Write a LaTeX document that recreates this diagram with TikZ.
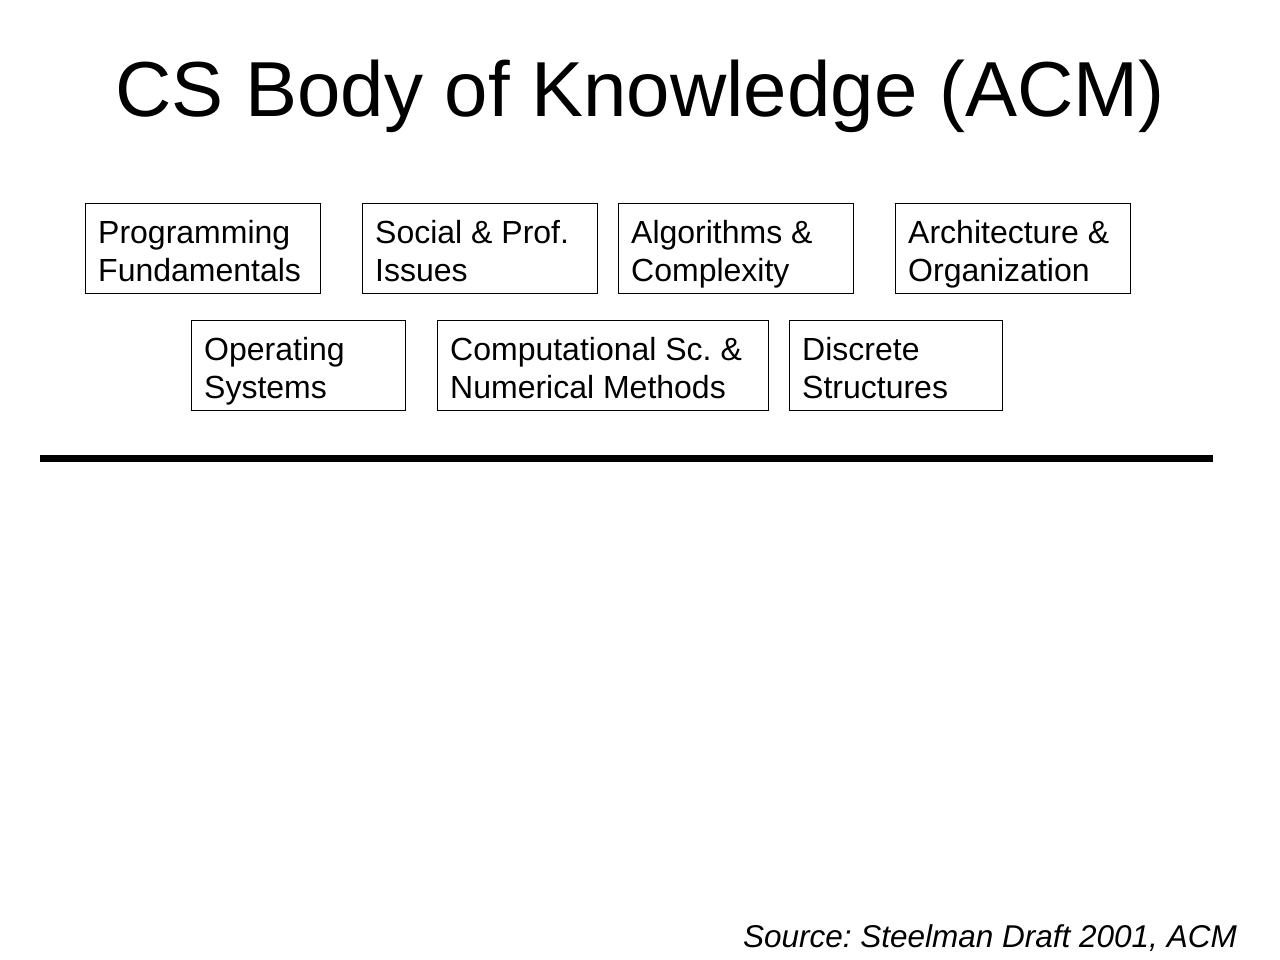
\documentclass[tikz,border=0pt]{standalone}
\usepackage{fontspec}
\setmainfont{Liberation Sans}
\frenchspacing
\begin{document}
\begin{tikzpicture}[x=1pt,y=-1pt,
  kbox/.style={draw,line width=1.3pt,anchor=north west,inner sep=0pt,minimum height=90pt},
  ktext/.style={anchor=base west,inner sep=0pt,align=left,font=\fontsize{32}{38}\selectfont}]
\useasboundingbox (0,0) rectangle (1280,960);
\node[font=\fontsize{78}{90}\selectfont] (title) at (640,96) {CS Body of Knowledge (ACM)};
\node[kbox,minimum width=235pt] (pf) at (85,203) {};
\node[kbox,minimum width=235pt] (sp) at (362,203) {};
\node[kbox,minimum width=235pt] (ac) at (618,203) {};
\node[kbox,minimum width=235pt] (ao) at (895,203) {};
\node[kbox,minimum width=214pt] (os) at (191,320) {};
\node[kbox,minimum width=331pt] (cs) at (437,320) {};
\node[kbox,minimum width=213pt] (ds) at (789,320) {};
\node[ktext] (tpf) at ([xshift=13pt,yshift=-78pt]pf.north west) {Programming\\Fundamentals};
\node[ktext] (tsp) at ([xshift=13pt,yshift=-78pt]sp.north west) {Social \& Prof.\\Issues};
\node[ktext] (tac) at ([xshift=13pt,yshift=-78pt]ac.north west) {Algorithms \&\\Complexity};
\node[ktext] (tao) at ([xshift=13pt,yshift=-78pt]ao.north west) {Architecture \&\\Organization};
\node[ktext] (tos) at ([xshift=13pt,yshift=-78pt]os.north west) {Operating\\Systems};
\node[ktext] (tcs) at ([xshift=13pt,yshift=-78pt]cs.north west) {Computational Sc. \&\\Numerical Methods};
\node[ktext] (tds) at ([xshift=13pt,yshift=-78pt]ds.north west) {Discrete\\Structures};
\coordinate (l1) at (40,458);
\coordinate (l2) at (1213,458);
\draw[line width=7pt] (l1) -- (l2);
\node[anchor=base east,inner sep=0pt,font=\fontsize{31.5}{36}\selectfont\itshape] (src) at (1237,947) {Source: Steelman Draft 2001, ACM};
\end{tikzpicture}
\end{document}
